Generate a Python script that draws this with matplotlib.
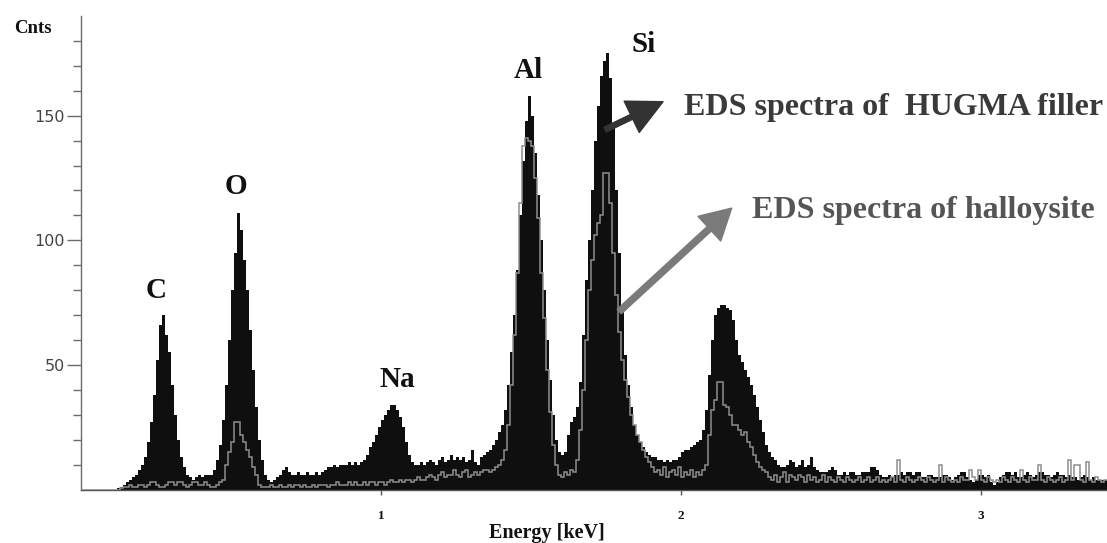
import numpy as np
import matplotlib
matplotlib.use('Agg')
import matplotlib.pyplot as plt
from matplotlib.patches import FancyArrowPatch, ArrowStyle

# ---------------- data ----------------
bin_width_kev = 0.01  # channel width

# EDS spectrum of HUGMA filler (counts per 0.01 keV channel, from 0.00 keV)
hugma_counts = [
    0, 0, 0, 0, 0, 0, 0, 0, 0, 0,
    0, 0, 0.5, 1, 2, 3, 4, 5, 6, 8,
    10, 13, 19, 27, 38, 52, 66, 70, 62, 55,
    42, 30, 20, 13, 9, 6, 5, 4, 5, 6,
    5, 6, 6, 6, 8, 12, 18, 28, 42, 60,
    80, 95, 111, 104, 92, 80, 64, 48, 33, 20,
    12, 6, 4, 3, 4, 5, 6, 8, 9, 7,
    6, 6, 7, 6, 6, 7, 6, 6, 7, 6,
    7, 8, 9, 9, 10, 9, 10, 10, 10, 11,
    10, 11, 10, 11, 12, 14, 17, 19, 22, 25,
    28, 30, 32, 34, 34, 32, 29, 25, 19, 14,
    11, 10, 10, 11, 10, 11, 12, 11, 10, 12,
    13, 11, 12, 14, 12, 13, 12, 13, 11, 12,
    16, 11, 10, 13, 14, 15, 16, 18, 20, 23,
    26, 32, 42, 55, 70, 88, 110, 132, 148, 158,
    150, 135, 118, 100, 80, 60, 44, 30, 20, 15,
    14, 15, 22, 27, 29, 33, 43, 62, 84, 100,
    120, 140, 154, 166, 172, 175, 165, 145, 120, 95,
    72, 54, 42, 33, 26, 22, 19, 17, 15, 14,
    13, 13, 12, 12, 11, 12, 11, 12, 12, 13,
    15, 16, 16, 17, 18, 19, 20, 24, 32, 46,
    60, 70, 73, 74, 74, 73, 72, 68, 60, 54,
    51, 48, 45, 42, 38, 33, 28, 23, 18, 15,
    13, 12, 10, 9, 9, 10, 12, 11, 9, 10,
    12, 9, 10, 13, 9, 8, 7, 7, 7, 8,
    9, 8, 6, 6, 7, 6, 7, 7, 6, 6,
    7, 7, 7, 9, 9, 8, 6, 5, 5, 6,
    5, 6, 6, 7, 6, 7, 7, 6, 7, 7,
    5, 5, 6, 6, 5, 5, 5, 6, 6, 5,
    4, 5, 6, 7, 7, 5, 4, 3, 4, 6,
    6, 5, 6, 3, 2, 3, 5, 6, 7, 7,
    6, 7, 5, 5, 6, 7, 6, 5, 6, 7,
    7, 6, 6, 5, 6, 7, 6, 6, 5, 6,
    5, 5, 4, 5, 6, 5, 4, 5, 4, 4,
    4, 4,
]

# EDS spectrum of halloysite (counts per 0.01 keV channel, from 0.00 keV)
halloysite_counts = [
    0, 0, 0, 0, 0, 0, 0, 0, 0, 0,
    0, 0, 0, 0.5, 1, 1, 2, 1, 1, 2,
    2, 1, 2, 3, 3, 2, 1, 1, 2, 3,
    3, 2, 3, 3, 2, 1, 2, 3, 3, 2,
    2, 3, 2, 1, 1, 2, 3, 4, 10, 15,
    19, 27, 27, 22, 19, 16, 13, 9, 6, 2,
    1, 1, 1, 2, 1, 1, 2, 1, 1, 2,
    1, 2, 2, 1, 2, 1, 1, 2, 1, 2,
    2, 2, 1, 2, 2, 3, 2, 2, 2, 3,
    2, 3, 2, 2, 3, 2, 3, 3, 2, 3,
    3, 2, 3, 4, 3, 3, 4, 3, 4, 4,
    3, 4, 5, 4, 4, 5, 6, 5, 4, 6,
    7, 5, 6, 6, 8, 6, 5, 7, 8, 5,
    6, 7, 6, 7, 8, 8, 7, 8, 9, 10,
    12, 16, 26, 42, 62, 87, 115, 138, 141, 140,
    138, 125, 109, 87, 69, 48, 31, 18, 10, 6,
    5, 7, 6, 8, 7, 12, 24, 40, 60, 80,
    92, 102, 107, 110, 127, 127, 115, 95, 78, 63,
    52, 44, 37, 30, 26, 22, 19, 16, 13, 11,
    9, 7, 8, 6, 9, 5, 7, 8, 6, 9,
    5, 7, 6, 8, 5, 7, 6, 8, 10, 22,
    32, 36, 43, 43, 34, 33, 30, 26, 26, 24,
    22, 23, 19, 17, 14, 11, 9, 8, 7, 5,
    4, 6, 3, 5, 7, 3, 6, 5, 4, 6,
    5, 3, 6, 4, 5, 3, 4, 6, 3, 5,
    4, 3, 5, 4, 3, 5, 4, 3, 4, 5,
    3, 4, 5, 3, 4, 5, 3, 4, 3, 4,
    5, 3, 12, 4, 3, 5, 4, 3, 4, 5,
    4, 3, 5, 4, 3, 4, 10, 3, 5, 4,
    3, 4, 3, 5, 4, 4, 8, 5, 4, 8,
    4, 3, 5, 4, 3, 4, 3, 5, 4, 3,
    5, 4, 3, 8, 4, 3, 5, 4, 4, 10,
    4, 3, 5, 4, 3, 4, 5, 3, 4, 12,
    4, 10, 10, 4, 3, 11, 4, 3, 5, 4,
    3, 4,
]

element_labels = ['C', 'O', 'Na', 'Al', 'Si']
element_label_energy = [0.252, 0.517, 1.053, 1.492, 1.875]
element_label_counts = [76.9, 118.7, 41.2, 165.3, 175.7]

x_tick_values = [1, 2, 3]
x_tick_labels = ['1', '2', '3']
y_tick_values = [50, 100, 150]
y_tick_labels = ['50', '100', '150']

# ---------------- figure ----------------
W, H = 1107, 543
fig = plt.figure(figsize=(W / 100, H / 100), dpi=100)
ax_left, ax_right, ax_bottom, ax_top = 81, 1107, 489.5, 16.0
ax = fig.add_axes([ax_left / W, 1 - ax_bottom / H,
                   (ax_right - ax_left) / W, (ax_bottom - ax_top) / H])

edges_h = np.arange(len(hugma_counts) + 1) * bin_width_kev
edges_g = np.arange(len(halloysite_counts) + 1) * bin_width_kev

ax.stairs(hugma_counts, edges_h, fill=True, color='#0f0f0f', lw=0, zorder=2)
ax.stairs(halloysite_counts, edges_g, color='#8e8e8e', lw=1.1,
          baseline=None, zorder=3)

ax.set_xlim(0, 3.42)
ax.set_ylim(0, 190)

for s in ['top', 'right']:
    ax.spines[s].set_visible(False)
ax.spines['left'].set_color('#6a6a6a')
ax.spines['left'].set_linewidth(1.0)
ax.spines['bottom'].set_color('#555555')
ax.spines['bottom'].set_linewidth(1.0)

serif = 'Liberation Serif'

ax.set_yticks(y_tick_values)
ax.set_yticklabels(y_tick_labels, fontfamily='DejaVu Sans', fontsize=11.5,
                   color='#444444')
ax.set_yticks(np.arange(10, 190, 10), minor=True)
ax.tick_params(axis='y', which='major', direction='out', length=10,
               width=1, color='#6a6a6a', pad=1.5)
ax.tick_params(axis='y', which='minor', direction='out', length=6,
               width=1, color='#6a6a6a')

ax.set_xticks(x_tick_values)
ax.set_xticklabels(x_tick_labels, fontfamily=serif, fontweight='bold',
                   fontsize=9.5, color='#111111')
ax.tick_params(axis='x', which='major', direction='out', length=3.6,
               width=1, color='#555555', pad=11)

fig.text(547 / W, 1 - 533 / H, 'Energy [keV]', ha='center', va='center',
         fontfamily=serif, fontweight='bold', fontsize=14.5, color='#111111')
fig.text(33 / W, 1 - 28.5 / H, 'Cnts', ha='center', va='center',
         fontfamily=serif, fontweight='bold', fontsize=13.5, color='#111111')

for lab, ex, ey in zip(element_labels, element_label_energy,
                       element_label_counts):
    ax.text(ex, ey, lab, ha='center', va='baseline', fontfamily=serif,
            fontweight='bold', fontsize=21, color='#111111', clip_on=False,
            zorder=5)

ax.text(2.01, 150.4, 'EDS spectra of  HUGMA filler', ha='left',
        va='baseline', fontfamily=serif, fontweight='bold', fontsize=23,
        color='#3a3a3a', clip_on=False, zorder=5)
ax.text(2.237, 109.0, 'EDS spectra of halloysite', ha='left',
        va='baseline', fontfamily=serif, fontweight='bold', fontsize=23,
        color='#555555', clip_on=False, zorder=5)

arrow_dark = FancyArrowPatch(
    (1.747, 144.4), (1.94, 155.6),
    arrowstyle=ArrowStyle.Simple(head_length=1.0, head_width=1.0,
                                 tail_width=0.15),
    mutation_scale=25, color='#333333', shrinkA=0, shrinkB=0,
    clip_on=False, zorder=6)
ax.add_patch(arrow_dark)

arrow_gray = FancyArrowPatch(
    (1.794, 71.4), (2.169, 112.9),
    arrowstyle=ArrowStyle.Simple(head_length=0.95, head_width=1.05,
                                 tail_width=0.19),
    mutation_scale=23, color='#7a7a7a', shrinkA=0, shrinkB=0,
    clip_on=False, zorder=6)
ax.add_patch(arrow_gray)

fig.savefig('out.png', dpi=100)
